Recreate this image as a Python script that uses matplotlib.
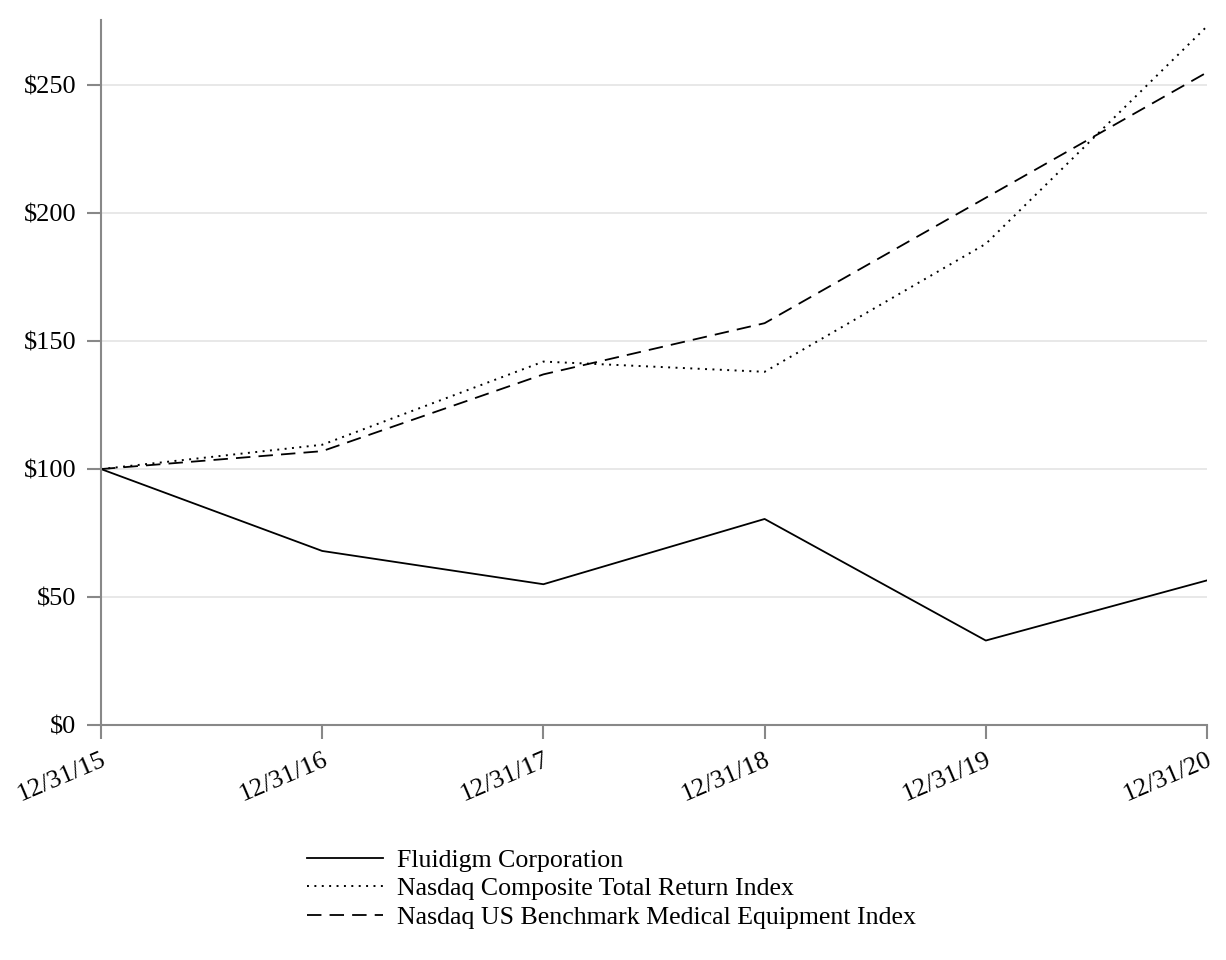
import matplotlib
matplotlib.use('Agg')
import matplotlib.pyplot as plt

# Дані графіка
dates = ['12/31/15', '12/31/16', '12/31/17', '12/31/18', '12/31/19', '12/31/20']
fluidigm = [100, 68, 55, 80.5, 33, 56.5]
nasdaq_composite = [100, 109.5, 142, 138, 188, 273]
nasdaq_med = [100, 107, 137, 157, 206, 255]
yticks = [0, 50, 100, 150, 200, 250]

plt.rcParams['font.family'] = ['Liberation Serif', 'DejaVu Serif']

fig = plt.figure(figsize=(12.26, 9.6), dpi=100)
ax = fig.add_axes([0.0824, 0.2448, 0.9021, 0.7342])

x = list(range(len(dates)))
ax.plot(x, fluidigm, color='black', lw=1.3, linestyle='-', label='Fluidigm Corporation')
ax.plot(x, nasdaq_composite, color='black', lw=1.4, linestyle=(0, (1, 2.8)),
        label='Nasdaq Composite Total Return Index')
ax.plot(x, nasdaq_med, color='black', lw=1.3, linestyle=(0, (8, 4.5)),
        label='Nasdaq US Benchmark Medical Equipment Index')

ax.set_xlim(0, 5)
ax.set_ylim(0, 275.4)
ax.set_xticks(x)
ax.set_xticklabels(dates, rotation=23, ha='right', rotation_mode='anchor', fontsize=19)
ax.set_yticks(yticks)
ax.set_yticklabels(['$' + str(v) for v in yticks], fontsize=19)

ax.grid(axis='y', color='#e8e8e8', lw=1.4)
ax.set_axisbelow(True)
for s in ['top', 'right']:
    ax.spines[s].set_visible(False)
for s in ['left', 'bottom']:
    ax.spines[s].set_color('#888888')
    ax.spines[s].set_linewidth(1.5)
ax.tick_params(axis='both', color='#888888', width=1.5, length=10, pad=8)
ax.tick_params(axis='x', pad=7)

fig.legend(loc='upper left', bbox_to_anchor=(0.25, 0.116), frameon=False,
           fontsize=18.6, handlelength=2.95, handletextpad=0.55, labelspacing=0.22,
           borderpad=0, borderaxespad=0)

fig.savefig('out.png', dpi=100)
